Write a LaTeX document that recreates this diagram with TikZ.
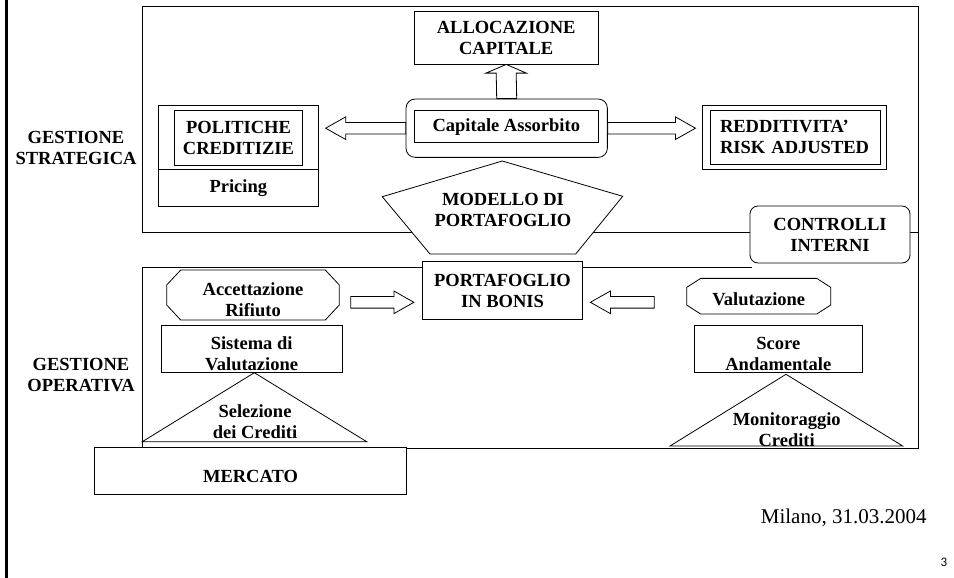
\documentclass[tikz,border=0pt]{standalone}
\usepackage{fontspec}
\setmainfont{Liberation Serif}
\newfontfamily\pagefont{Carlito}
\usetikzlibrary{positioning,calc}

\newcommand{\lab}{\fontsize{18.5}{21.5}\selectfont\bfseries}
% text set a bit low in its box
\newcommand{\dn}[2][6.5pt]{\raisebox{-#1}[\height][\depth]{\begin{tabular}{@{}c@{}}#2\end{tabular}}}
% hollow block arrows: from, tip, direction (1 right, -1 left)
\newcommand{\hblock}[3]{%
  \draw[fill=white] ($(#1)+(0,-5.8)$) -- ($(#2)+({-20*#3},-5.8)$) -- ($(#2)+({-20*#3},-11.3)$) -- (#2)
    -- ($(#2)+({-20*#3},11.3)$) -- ($(#2)+({-20*#3},5.8)$) -- ($(#1)+(0,5.8)$) -- cycle;}
\newcommand{\vblock}[2]{%
  \draw[fill=white] ($(#1)+(-10,0)$) -- ($(#2)+(-10,8.7)$) -- ($(#2)+(-20.3,8.7)$) -- (#2)
    -- ($(#2)+(20.3,8.7)$) -- ($(#2)+(10,8.7)$) -- ($(#1)+(10,0)$) -- cycle;}
% cut corners round a node: name, cut x, cut y
\newcommand{\octo}[3]{%
  \draw ($(#1.north west)+(#2,0)$) -- ($(#1.north east)+(-#2,0)$) -- ($(#1.north east)+(0,#3)$)
    -- ($(#1.south east)+(0,-#3)$) -- ($(#1.south east)+(-#2,0)$) -- ($(#1.south west)+(#2,0)$)
    -- ($(#1.south west)+(0,-#3)$) -- ($(#1.north west)+(0,#3)$) -- cycle;}

\begin{document}
\begin{tikzpicture}[x=1pt, y=-1pt, line width=0.8pt,
  box/.style={rectangle, draw, fill=white, inner sep=0pt, align=center, font=\lab},
  rbox/.style={box, rounded corners=8pt},
  obox/.style={rectangle, inner sep=0pt, outer sep=0pt, align=center, font=\lab},
  txt/.style={align=center, font=\lab, inner sep=0pt}]
  \useasboundingbox (0,0) rectangle (954,578);
  \draw[line width=3pt] (6.5,0) -- (6.5,578);
  % frames
  \draw (142.3,6) rectangle (918.3,232.7);
  \draw (751.7,267.7) -| (142.3,448.5) -| (918.3,232.7);
  \node (gs) at (76,148) [txt] {GESTIONE\\STRATEGICA};
  \node (go) at (81,375) [txt] {GESTIONE\\OPERATIVA};

  \node (alloc) at (506.2,37.9) [box, minimum width=184pt, minimum height=52.3pt] {ALLOCAZIONE\\CAPITALE};
  \node (cap) at (506.7,128.2) [rbox, minimum width=201.3pt, minimum height=58.3pt, rounded corners=9pt] {};
  \node (capin) at (506.3,126.7) [box, minimum width=184pt, minimum height=32pt] {Capitale Assorbito};
  \node (pol) at (238.3,137) [box, minimum width=160pt, minimum height=64pt] {};
  \node (polin) at (238.5,137.85) [box, minimum width=128.4pt, minimum height=54.3pt] {POLITICHE\\CREDITIZIE};
  \node (pri) [below=0pt of pol, box, minimum width=160pt, minimum height=36.7pt] {Pricing};
  \node (redd) at (794.5,137) [box, minimum width=184.4pt, minimum height=64pt] {};
  \node (reddin) at (795.35,137.15) [box, align=left, text width=150.7pt, inner xsep=10pt, minimum height=54.3pt] {REDDITIVITA'\\RISK ADJUSTED};

  % modello di portafoglio
  \draw[fill=white] (502.3,161) -- (622.7,196.3) -- (575.7,254) -- (430,254) -- (382.3,196.7) -- cycle;
  \node (mod) at (503,210) [txt] {MODELLO DI\\PORTAFOGLIO};
  \node (ctrl) at (830,234.5) [rbox, minimum width=160pt, minimum height=57pt] {\dn[2pt]{CONTROLLI\\INTERNI}};

  \node (port) at (502.5,290.5) [box, minimum width=160.4pt, minimum height=57.6pt] {\dn[2pt]{PORTAFOGLIO\\IN BONIS}};
  \node (acc) at (253,295) [obox, minimum width=172.6pt, minimum height=50pt] {\dn{Accettazione\\Rifiuto}};
  \octo{acc}{14}{15}
  \node (val) at (758.7,296.2) [obox, minimum width=144pt, minimum height=35.7pt] {\dn[4.8pt]{Valutazione}};
  \octo{val}{14}{9}
  \node (sis) at (251.65,349) [box, minimum width=181.3pt, minimum height=46.6pt] {\dn{Sistema di\\Valutazione}};
  \node (score) at (778.3,349) [box, minimum width=168pt, minimum height=46.6pt] {\dn{Score\\Andamentale}};
  \draw (254.3,372.7) -- (366.7,441.7) -- (142.3,441.7) -- cycle;
  \node (sel) at (255,421.5) [txt] {Selezione\\dei Crediti};
  \draw (786,374.3) -- (902.7,446) -- (670,446) -- cycle;
  \node (mon) at (786.7,429.5) [txt] {Monitoraggio\\Crediti};
  \node (merc) at (250.5,470.85) [box, minimum width=312.4pt, minimum height=46.3pt] {\dn[7.8pt]{MERCATO}};

  \node (mil) at (843.7,518) [font=\fontsize{21}{25}\selectfont] {Milano, 31.03.2004};
  \node (pg) at (944,562) [font=\pagefont\fontsize{13}{15}\selectfont] {3};

  % block arrows
  \coordinate (tipL) at ($(cap.west)+(-80,0)$);
  \coordinate (tipR) at ($(cap.east)+(87.7,0)$);
  \coordinate (accR) at (350.7,302.3);
  \coordinate (portW) at ([shift={(-8,11.8)}]port.west);
  \coordinate (valL) at (654.3,302.3);
  \coordinate (portE) at ([shift={(7.3,11.8)}]port.east);
  \vblock{cap.north}{alloc.south}
  \hblock{cap.west}{tipL}{-1}
  \hblock{cap.east}{tipR}{1}
  \hblock{accR}{portW}{1}
  \hblock{valL}{portE}{-1}
\end{tikzpicture}
\end{document}
